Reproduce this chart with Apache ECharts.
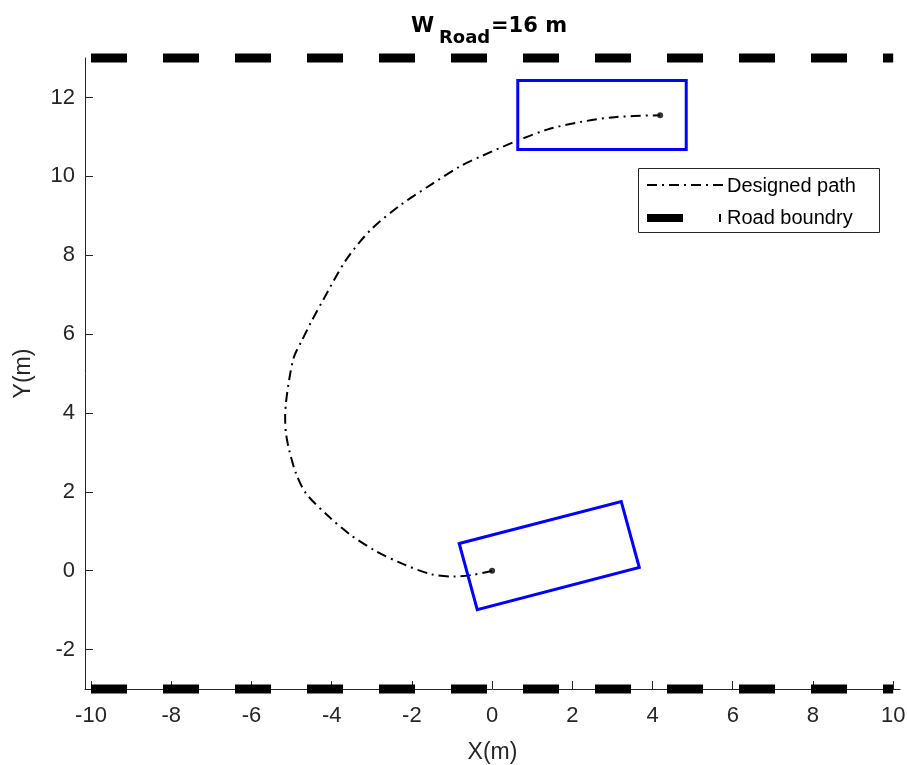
<!DOCTYPE html>
<html>
<head>
<meta charset="utf-8">
<script src="https://cdn.jsdelivr.net/npm/echarts@6/dist/echarts.min.js"></script>
<style>html,body{margin:0;padding:0;background:#fff;}#c{width:907px;height:765px;}</style>
</head>
<body>
<div id="c"></div>
<script>
// ---- data ----
const xTicks = [-10, -8, -6, -4, -2, 0, 2, 4, 6, 8, 10];
const yTicks = [-2, 0, 2, 4, 6, 8, 10, 12];
const pathX = [0, -0.45, -0.95, -1.52, -2.27, -2.9, -3.52, -4.1, -4.64, -4.89, -5.06, -5.14, -5.16, -5.14, -5.06, -4.94, -4.76, -4.51, -4.21, -3.64, -3.02, -2.27, -1.52, -0.77, -0.27, 0.62, 1.39, 2.22, 3.05, 4.19];
const pathY = [0, -0.10, -0.15, -0.09, 0.19, 0.5, 0.9, 1.4, 1.96, 2.47, 3.06, 3.49, 3.9, 4.25, 4.84, 5.42, 5.8, 6.31, 6.87, 7.88, 8.65, 9.28, 9.79, 10.27, 10.51, 10.9, 11.19, 11.38, 11.5, 11.55];
const endPointsX = [0, 4.19];
const endPointsY = [0, 11.55];
// vehicle outlines (corners, closed; first edge repeated so every corner is joined)
const car1X = [-0.82, 3.22, 3.67, -0.37, -0.82, 3.22];
const car1Y = [0.69, 1.75, 0.08, -0.99, 0.69, 1.75];
const car2X = [0.64, 4.84, 4.84, 0.64, 0.64, 4.84];
const car2Y = [12.43, 12.43, 10.68, 10.68, 12.43, 12.43];
const roadX = [-10, 10];
const roadTopY = [13, 13];
const roadBottomY = [-3, -3];
const legendNames = ['Designed path', 'Road boundry'];
const titleMain = 'W', titleSub = 'Road', titleRest = '=16 m';
const xName = 'X(m)', yName = 'Y(m)';

const pairs = (xs, ys) => xs.map((x, i) => [x, ys[i]]);
const FONT = "'Liberation Sans', Arial, sans-serif";
const AX = '#262626';
const dashDot = [10, 5, 2, 5];

const chart = echarts.init(document.getElementById('c'), null, {renderer: 'canvas'});
chart.setOption({
  animation: false,
  backgroundColor: '#fff',
  grid: {left: 85, right: 7, top: 58, bottom: 76, containLabel: false, outerBoundsMode: 'none'},
  xAxis: {
    type: 'value', min: -10.15, max: 10.17,
    name: xName, nameLocation: 'middle', nameGap: 52,
    nameTextStyle: {fontFamily: FONT, fontSize: 23, color: AX},
    axisLine: {show: true, onZero: false, lineStyle: {color: AX, width: 1}},
    axisTick: {show: true, inside: true, length: 8, customValues: xTicks, lineStyle: {color: AX}},
    axisLabel: {customValues: xTicks, fontFamily: FONT, fontSize: 22, color: AX, margin: 16},
    splitLine: {show: false}
  },
  yAxis: {
    type: 'value', min: -3, max: 13,
    name: yName, nameLocation: 'middle', nameGap: 50, nameRotate: 90,
    nameTextStyle: {fontFamily: FONT, fontSize: 23, color: AX},
    axisLine: {show: true, onZero: false, lineStyle: {color: AX, width: 1}},
    axisTick: {show: true, inside: true, length: 8, customValues: yTicks, lineStyle: {color: AX}},
    axisLabel: {customValues: yTicks, fontFamily: FONT, fontSize: 22, color: AX, margin: 10},
    splitLine: {show: false}
  },
  series: [
    {type: 'line', name: legendNames[1], data: pairs(roadX, roadTopY), showSymbol: false, clip: false, z: 3,
      lineStyle: {color: '#000', width: 9, type: [36, 36], cap: 'butt'}},
    {type: 'line', name: legendNames[1] + ' ', data: pairs(roadX, roadBottomY), showSymbol: false, clip: false, z: 3,
      lineStyle: {color: '#000', width: 9, type: [36, 36], cap: 'butt'}},
    {type: 'line', name: legendNames[0], data: pairs(pathX, pathY), showSymbol: false, smooth: 0.3, z: 4,
      lineStyle: {color: '#000', width: 2, type: dashDot}},
    {type: 'scatter', data: pairs(endPointsX, endPointsY), symbolSize: 6, itemStyle: {color: '#000'}, z: 5},
    {type: 'line', data: pairs(car1X, car1Y), showSymbol: false, z: 4,
      lineStyle: {color: '#0000FF', width: 3, join: 'miter'}},
    {type: 'line', data: pairs(car2X, car2Y), showSymbol: false, z: 4,
      lineStyle: {color: '#0000FF', width: 3, join: 'miter'}}
  ],
  graphic: [
    {type: 'text', left: 411, top: 16, style: {text: titleMain, font: "bold 21px 'DejaVu Sans', sans-serif", fill: '#000'}},
    {type: 'text', left: 439, top: 29, style: {text: titleSub, font: "bold 18px 'DejaVu Sans', sans-serif", fill: '#000'}},
    {type: 'text', left: 491, top: 16, style: {text: titleRest, font: "bold 21px 'DejaVu Sans', sans-serif", fill: '#000'}},
    {type: 'rect', shape: {x: 638.5, y: 168.5, width: 241, height: 64}, style: {fill: '#fff', stroke: AX, lineWidth: 1}, z: 10},
    {type: 'line', shape: {x1: 647, y1: 185, x2: 725, y2: 185}, style: {stroke: '#000', lineWidth: 2, lineDash: dashDot}, z: 11},
    {type: 'line', shape: {x1: 647, y1: 218, x2: 721, y2: 218}, style: {stroke: '#000', lineWidth: 8, lineDash: [36, 36], lineCap: 'butt'}, z: 11},
    {type: 'text', x: 727, y: 186, style: {text: legendNames[0], font: "20px 'Liberation Sans', Arial, sans-serif", fill: '#000', textVerticalAlign: 'middle'}, z: 11},
    {type: 'text', x: 727, y: 218, style: {text: legendNames[1], font: "20px 'Liberation Sans', Arial, sans-serif", fill: '#000', textVerticalAlign: 'middle'}, z: 11}
  ]
});
</script>
</body>
</html>
